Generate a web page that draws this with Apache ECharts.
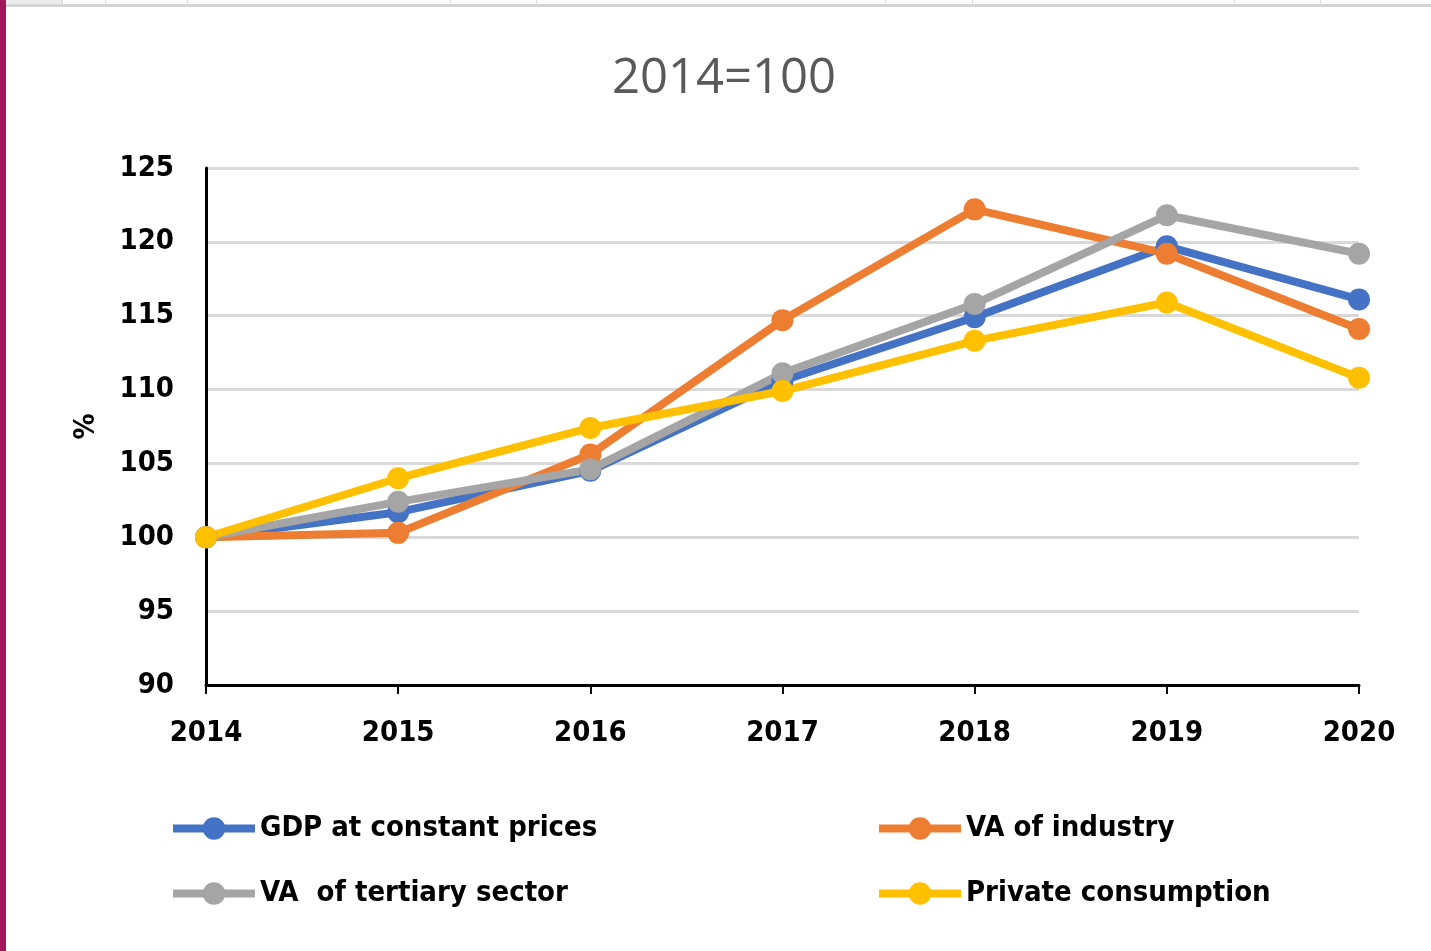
<!DOCTYPE html>
<html>
<head>
<meta charset="utf-8">
<script src="https://cdn.jsdelivr.net/npm/echarts@6/dist/echarts.min.js"></script>
<style>
html,body{margin:0;padding:0;background:#fff;}
#chart{width:1431px;height:951px;}
</style>
</head>
<body>
<div id="chart"></div>
<script>
const categories = ['2014','2015','2016','2017','2018','2019','2020'];
const gdp = [100, 101.7, 104.5, 110.6, 114.9, 119.7, 116.1];
const industry = [100, 100.3, 105.6, 114.7, 122.2, 119.2, 114.1];
const tertiary = [100, 102.4, 104.6, 111.1, 115.8, 121.8, 119.2];
const privateCons = [100, 104.0, 107.4, 109.9, 113.3, 115.9, 110.8];
const seriesNames = ['GDP at constant prices', 'VA of industry', 'VA  of tertiary sector', 'Private consumption'];
const colors = ['#4472C4', '#ED7D31', '#A5A5A5', '#FFC000'];
const titleText = '2014=100';
const yName = '%';

const FONT = '"Liberation Sans Narrow", "DejaVu Sans Condensed", sans-serif';
const FS = 29;
const chart = echarts.init(document.getElementById('chart'), null, {renderer: 'canvas'});

function mk(name, data, color) {
  return {
    name: name, type: 'line', data: data,
    symbol: 'circle', symbolSize: 22,
    lineStyle: {color: color, width: 8},
    itemStyle: {color: color},
    animation: false
  };
}

const legendPos = [[164, 809], [870, 809], [164, 874], [870, 874]];
const topTicks = [62, 105, 187, 450, 536, 885, 972, 1234, 1320];
const graphic = [
  {type: 'rect', shape: {x: 5, y: 0, width: 57, height: 5}, style: {fill: '#ececec'}, silent: true},
  {type: 'rect', shape: {x: 5, y: 4, width: 1426, height: 3}, style: {fill: '#d4d4d4'}, silent: true},
  {type: 'rect', shape: {x: 0, y: 0, width: 6, height: 951}, style: {fill: '#a3155a'}, silent: true}
];
topTicks.forEach(x => graphic.push({type: 'rect', shape: {x: x, y: 0, width: 1, height: 5}, style: {fill: '#d9d9d9'}, silent: true}));

chart.setOption({
  backgroundColor: '#fff',
  animation: false,
  title: {
    text: titleText, left: 607, top: 50,
    textStyle: {fontFamily: '"Open Sans", sans-serif', fontSize: 49, fontWeight: 'normal', color: '#595959'}
  },
  legend: seriesNames.map((n, i) => ({
    data: [n], left: legendPos[i][0], top: legendPos[i][1],
    itemWidth: 82, itemHeight: 28, itemGap: 0,
    lineStyle: {width: 8},
    textStyle: {fontFamily: FONT, fontSize: FS, fontWeight: 'bold', color: '#000', padding: [0, 0, 0, 0]}
  })),
  grid: {left: 206, right: 72, top: 168, bottom: 266, containLabel: false},
  xAxis: {
    type: 'category', data: categories, boundaryGap: false,
    axisLine: {lineStyle: {color: '#000', width: 3}},
    axisTick: {show: true, inside: false, length: 9, lineStyle: {color: '#000', width: 2}},
    axisLabel: {fontFamily: FONT, fontSize: FS, fontWeight: 'bold', color: '#000', margin: 34},
    splitLine: {show: false}
  },
  yAxis: {
    type: 'value', min: 90, max: 125, interval: 5,
    name: yName, nameLocation: 'middle', nameGap: 105, nameRotate: 90,
    nameTextStyle: {fontFamily: FONT, fontSize: FS, fontWeight: 'bold', color: '#000'},
    axisLine: {show: true, lineStyle: {color: '#000', width: 3}},
    axisTick: {show: false},
    axisLabel: {fontFamily: FONT, fontSize: FS, fontWeight: 'bold', color: '#000', margin: 32},
    splitLine: {show: true, lineStyle: {color: '#d9d9d9', width: 3}}
  },
  graphic: graphic,
  series: [
    mk(seriesNames[0], gdp, colors[0]),
    mk(seriesNames[1], industry, colors[1]),
    mk(seriesNames[2], tertiary, colors[2]),
    mk(seriesNames[3], privateCons, colors[3])
  ]
});
</script>
</body>
</html>
